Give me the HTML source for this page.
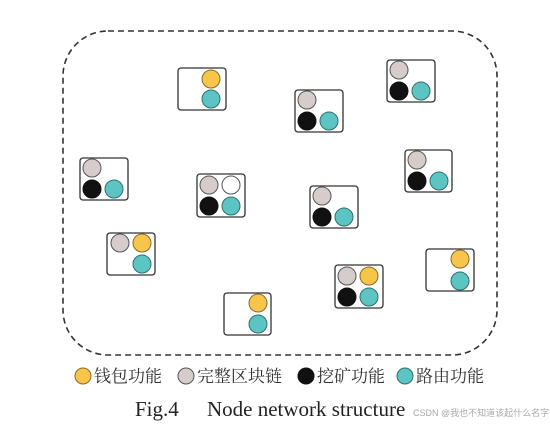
<!DOCTYPE html>
<html><head><meta charset="utf-8"><style>
html,body{margin:0;padding:0;background:#fff;width:550px;height:430px;overflow:hidden}
svg{display:block}
</style></head><body>
<svg width="550" height="430" viewBox="0 0 550 430" xmlns="http://www.w3.org/2000/svg">
<defs>
<style>
.b{fill:#fff;stroke:#333;stroke-width:1.3}
.y{fill:#f7c54a;stroke:#8a6a2a;stroke-width:1}
.g{fill:#d6cccb;stroke:#555;stroke-width:1}
.k{fill:#111;stroke:#111;stroke-width:1}
.t{fill:#5cc4c2;stroke:#2f6f6e;stroke-width:1}
.w{fill:#fff;stroke:#555;stroke-width:1}
</style>
</defs>
<rect x="63" y="31" width="434" height="324" rx="45" fill="none" stroke="#333" stroke-width="1.6" stroke-dasharray="6,4"/>
<g>
<rect class="b" x="178" y="68" width="48" height="42" rx="3"/>
<circle class="y" cx="211" cy="79" r="9"/><circle class="t" cx="211" cy="99" r="9"/>

<rect class="b" x="295" y="90" width="48" height="42" rx="3"/>
<circle class="g" cx="307" cy="100" r="9"/><circle class="k" cx="307" cy="121" r="9"/><circle class="t" cx="329" cy="121" r="9"/>

<rect class="b" x="387" y="60" width="48" height="42" rx="3"/>
<circle class="g" cx="399" cy="70" r="9"/><circle class="k" cx="399" cy="91" r="9"/><circle class="t" cx="421" cy="91" r="9"/>

<rect class="b" x="80" y="158" width="48" height="42" rx="3"/>
<circle class="g" cx="92" cy="168" r="9"/><circle class="k" cx="92" cy="189" r="9"/><circle class="t" cx="114" cy="189" r="9"/>

<rect class="b" x="197" y="174" width="48" height="43" rx="3"/>
<circle class="g" cx="209" cy="185" r="9"/><circle class="w" cx="231" cy="185" r="9"/><circle class="k" cx="209" cy="206" r="9"/><circle class="t" cx="231" cy="206" r="9"/>

<rect class="b" x="405" y="150" width="47" height="42" rx="3"/>
<circle class="g" cx="417" cy="160" r="9"/><circle class="k" cx="417" cy="181" r="9"/><circle class="t" cx="439" cy="181" r="9"/>

<rect class="b" x="310" y="186" width="48" height="42" rx="3"/>
<circle class="g" cx="322" cy="196" r="9"/><circle class="k" cx="322" cy="217" r="9"/><circle class="t" cx="344" cy="217" r="9"/>

<rect class="b" x="107" y="233" width="48" height="42" rx="3"/>
<circle class="g" cx="120" cy="243" r="9"/><circle class="y" cx="142" cy="243" r="9"/><circle class="t" cx="142" cy="264" r="9"/>

<rect class="b" x="335" y="265" width="48" height="43" rx="3"/>
<circle class="g" cx="347" cy="276" r="9"/><circle class="y" cx="369" cy="276" r="9"/><circle class="k" cx="347" cy="297" r="9"/><circle class="t" cx="369" cy="297" r="9"/>

<rect class="b" x="426" y="249" width="48" height="42" rx="3"/>
<circle class="y" cx="460" cy="259" r="9"/><circle class="t" cx="460" cy="281" r="9"/>

<rect class="b" x="224" y="293" width="47" height="42" rx="3"/>
<circle class="y" cx="258" cy="303" r="9"/><circle class="t" cx="258" cy="324" r="9"/>
</g>
<g font-family="'Liberation Serif','Noto Serif CJK SC',serif" font-size="17" fill="#333">
<circle class="y" cx="83" cy="376" r="8"/><text x="94" y="382">钱包功能</text>
<circle class="g" cx="186" cy="376" r="8"/><text x="197" y="382">完整区块链</text>
<circle class="k" cx="306" cy="376" r="8"/><text x="317" y="382">挖矿功能</text>
<circle class="t" cx="405" cy="376" r="8"/><text x="416" y="382">路由功能</text>
</g>
<text x="135" y="416" font-family="'Liberation Serif',serif" font-size="21" fill="#222">Fig.4<tspan x="207">Node network structure</tspan></text>
<text x="413" y="416" font-family="'Liberation Sans','Noto Sans CJK SC',sans-serif" font-size="9" fill="#aaa">CSDN @我也不知道该起什么名字</text>
</svg>
</body></html>
